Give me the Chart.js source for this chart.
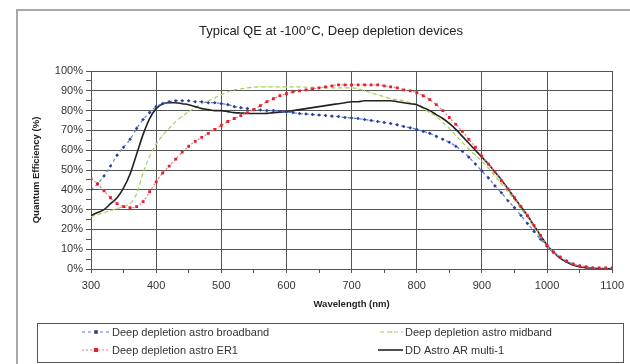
<!DOCTYPE html>
<html>
<head>
<meta charset="utf-8">
<script src="https://cdn.jsdelivr.net/npm/chart.js@4.4.1/dist/chart.umd.min.js"></script>
<style>
  html, body { margin: 0; padding: 0; background: #fff; }
  #wrap { width: 630px; height: 364px; }
</style>
</head>
<body>
<div id="wrap"><canvas id="qe" width="630" height="364"></canvas></div>
<script>
const wavelength = [
  300, 310, 320, 330, 340, 350, 360, 370, 380, 390,
  400, 410, 420, 430, 440, 450, 460, 470, 480, 490,
  500, 510, 520, 530, 540, 550, 560, 570, 580, 590,
  600, 610, 620, 630, 640, 650, 660, 670, 680, 690,
  700, 710, 720, 730, 740, 750, 760, 770, 780, 790,
  800, 810, 820, 830, 840, 850, 860, 870, 880, 890,
  900, 910, 920, 930, 940, 950, 960, 970, 980, 990,
  1000, 1010, 1020, 1030, 1040, 1050, 1060, 1070, 1080, 1090,
  1100
];

// QE in percent, one value per wavelength above
const broadband = [
  40, 43, 47, 52, 57.5, 61.5, 65.5, 71, 75.5, 79,
  82, 83.5, 84.5, 85, 85, 85, 84.5, 84.5, 84, 84,
  83.5, 83, 82, 81.5, 81, 80.5, 80.3, 80, 80, 79.5,
  79.3, 79, 78.5, 78.3, 78, 77.8, 77.5, 77.2, 77, 76.5,
  76.3, 76, 75.5, 75, 74.5, 74, 73.5, 72.8, 72, 71.3,
  70.5, 69.5, 68.5, 67, 65.5, 64, 62, 59.5, 56.5, 53,
  49.5, 46, 42, 38.5, 34.5, 31, 27, 23, 19, 15,
  11.5, 8.5, 6, 4, 2.5, 1.5, 1, 0.5, 0.3, 0.2,
  0.1
];

const midband = [
  26.5, 27.5, 28.5, 29.5, 30.5, 31.5, 33, 38, 48.5, 57,
  63, 67.5, 71, 74.5, 77, 79.5, 81.5, 83.5, 85, 86.5,
  88, 89.5, 90.5, 91, 91.5, 91.8, 92, 92, 92, 92,
  92, 92, 92, 91.8, 91.7, 91.6, 91.5, 91.5, 91.5, 91.5,
  91.5, 91, 90, 89, 88, 87, 86, 85.5, 85, 84,
  83, 81, 79, 77, 74, 71, 67.5, 64, 60.5, 57.5,
  54.5, 51, 47, 43, 39, 35, 30.5, 26, 21, 16,
  11.5, 8, 5.5, 3.5, 2, 1.2, 0.7, 0.4, 0.2, 0.1,
  0
];

const er1 = [
  45.5, 43, 39.5, 36, 33, 31.5, 31, 31.5, 34, 39,
  44, 48.5, 52, 55.5, 59, 62, 64.5, 66.5, 68.5, 70.5,
  72.5, 74.5, 76, 77.5, 79, 80.5, 82.5, 84.5, 86, 87.5,
  88.5, 89.5, 90, 90.5, 91, 91.5, 92, 92.5, 93, 93,
  93, 93, 93, 93, 93, 92.5, 92, 91.5, 90.5, 90,
  89, 87.5, 85.5, 83, 80, 76.5, 73, 69.5, 65.5, 61.5,
  57, 53, 49, 44.5, 40.5, 36, 31.5, 27, 22, 17,
  12, 8.5, 6, 4, 2.5, 1.5, 1, 0.5, 0.5, 0.5,
  0.5
];

const arMulti = [
  27, 28.5, 30, 33, 36, 41, 48, 58, 68, 76,
  81, 83.5, 84, 84, 83.5, 83, 82, 81, 80.5, 80,
  80, 79.5, 79, 78.8, 78.6, 78.5, 78.5, 78.6, 79, 79.2,
  79.5, 80, 80.5, 81, 81.5, 82, 82.5, 83, 83.5, 84,
  84.5, 84.5, 85, 85, 85, 85, 85, 84.5, 84, 83.5,
  83, 81.5, 80, 78, 76, 73.5, 70.5, 67, 63.5, 60,
  56.5, 53, 49, 45, 40.5, 36, 31.5, 27, 22, 17,
  12, 8.5, 5.5, 3.5, 2, 1.2, 0.7, 0.4, 0.2, 0.1,
  0
];

const seriesNames = [
  'Deep depletion astro broadband',
  'Deep depletion astro midband',
  'Deep depletion astro ER1',
  'DD Astro AR multi-1'
];

const FONT = '"Liberation Sans", Arial, sans-serif';

function pts(vals) {
  return wavelength.map((w, i) => ({ x: w, y: vals[i] }));
}

// frame, title and boxed two-column legend
const decor = {
  id: 'decor',
  beforeDraw(chart) {
    const c = chart.ctx;
    c.save();
    c.strokeStyle = '#a8a8a8';
    c.lineWidth = 2;
    c.strokeRect(17, 10, 700, 420);
    c.restore();
  },
  afterDraw(chart) {
    const c = chart.ctx;
    c.save();
    c.fillStyle = '#222';
    c.font = '13px ' + FONT;
    c.textAlign = 'center';
    c.textBaseline = 'middle';
    c.fillText('Typical QE at -100\u00B0C, Deep depletion devices', 331, 31);

    c.strokeStyle = '#555';
    c.lineWidth = 1;
    c.strokeRect(37.5, 323.5, 586, 39);

    const slots = [
      { ds: 0, x0: 82, x1: 110, y: 332 },
      { ds: 1, x0: 380, x1: 403, y: 332 },
      { ds: 2, x0: 82, x1: 110, y: 350 },
      { ds: 3, x0: 378, x1: 403, y: 350 }
    ];
    c.font = '11px ' + FONT;
    c.textAlign = 'left';
    slots.forEach(s => {
      const d = chart.data.datasets[s.ds];
      c.strokeStyle = d.borderColor;
      c.lineWidth = d.borderWidth;
      c.setLineDash(d.borderDash || []);
      c.beginPath();
      c.moveTo(s.x0, s.y);
      c.lineTo(s.x1, s.y);
      c.stroke();
      c.setLineDash([]);
      if (d.pointRadius > 0) {
        const mx = (s.x0 + s.x1) / 2;
        const r = d.pointRadius;
        c.fillStyle = d.pointBackgroundColor;
        c.fillRect(mx - r, s.y - r, r * 2, r * 2);
      }
      c.fillStyle = '#333';
      c.fillText(d.label, s.x1 + 2, s.y + 0.5);
    });
    c.restore();
  }
};

new Chart(document.getElementById('qe'), {
  type: 'line',
  data: {
    datasets: [
      {
        label: seriesNames[0],
        data: pts(broadband),
        borderColor: '#5b7ad6',
        borderWidth: 1.2,
        borderDash: [3, 3],
        pointStyle: 'rectRot',
        pointRadius: 1.8,
        pointBackgroundColor: '#2c3f96',
        pointBorderColor: '#2c3f96',
        pointBorderWidth: 0,
        order: 2
      },
      {
        label: seriesNames[1],
        data: pts(midband),
        borderColor: '#9fd05a',
        borderWidth: 1.2,
        borderDash: [4, 3],
        pointStyle: 'rect',
        pointRadius: 0.8,
        pointBackgroundColor: '#c2dc7a',
        pointBorderColor: '#c2dc7a',
        pointBorderWidth: 0,
        order: 4
      },
      {
        label: seriesNames[2],
        data: pts(er1),
        borderColor: '#f07a84',
        borderWidth: 1.2,
        borderDash: [2, 2],
        pointStyle: 'rect',
        pointRadius: 2,
        pointBackgroundColor: '#e4202c',
        pointBorderColor: '#e4202c',
        pointBorderWidth: 0,
        order: 1
      },
      {
        label: seriesNames[3],
        data: pts(arMulti),
        borderColor: '#222',
        borderWidth: 1.6,
        pointRadius: 0,
        order: 3
      }
    ]
  },
  options: {
    responsive: false,
    animation: false,
    cubicInterpolationMode: 'monotone',
    layout: { padding: { left: 28, right: 12, top: 71, bottom: 50 } },
    plugins: {
      legend: { display: false },
      title: { display: false },
      tooltip: { enabled: false }
    },
    scales: {
      x: {
        type: 'linear',
        min: 300,
        max: 1100,
        afterFit: s => { s.height = 45; },
        ticks: {
          stepSize: 50,
          autoSkip: false,
          maxRotation: 0,
          padding: 6,
          color: '#333',
          font: { family: FONT, size: 11 },
          callback: v => (v % 100 === 0 ? v : '')
        },
        grid: {
          color: ctx => (ctx.tick && ctx.tick.value % 100 === 0 ? '#555' : 'rgba(0,0,0,0)'),
          tickColor: '#555',
          tickLength: 4
        },
        border: { color: '#555' },
        title: {
          display: true,
          text: 'Wavelength (nm)',
          color: '#222',
          font: { family: FONT, size: 9.5, weight: 'bold' },
          padding: { top: 0, bottom: 4 }
        }
      },
      y: {
        min: 0,
        max: 100,
        afterFit: s => { s.width = 63; },
        ticks: {
          stepSize: 5,
          autoSkip: false,
          padding: 3,
          color: '#333',
          font: { family: FONT, size: 11 },
          callback: v => (v % 10 === 0 ? v + '%' : '')
        },
        grid: {
          color: ctx => (ctx.tick && ctx.tick.value % 10 === 0 ? '#555' : 'rgba(0,0,0,0)'),
          tickColor: '#555',
          tickLength: 5
        },
        border: { color: '#555' },
        title: {
          display: true,
          text: 'Quantum Efficiency (%)',
          color: '#222',
          font: { family: FONT, size: 9.5, weight: 'bold' },
          padding: { top: 3, bottom: 0 }
        }
      }
    }
  },
  plugins: [decor]
});
</script>
</body>
</html>
